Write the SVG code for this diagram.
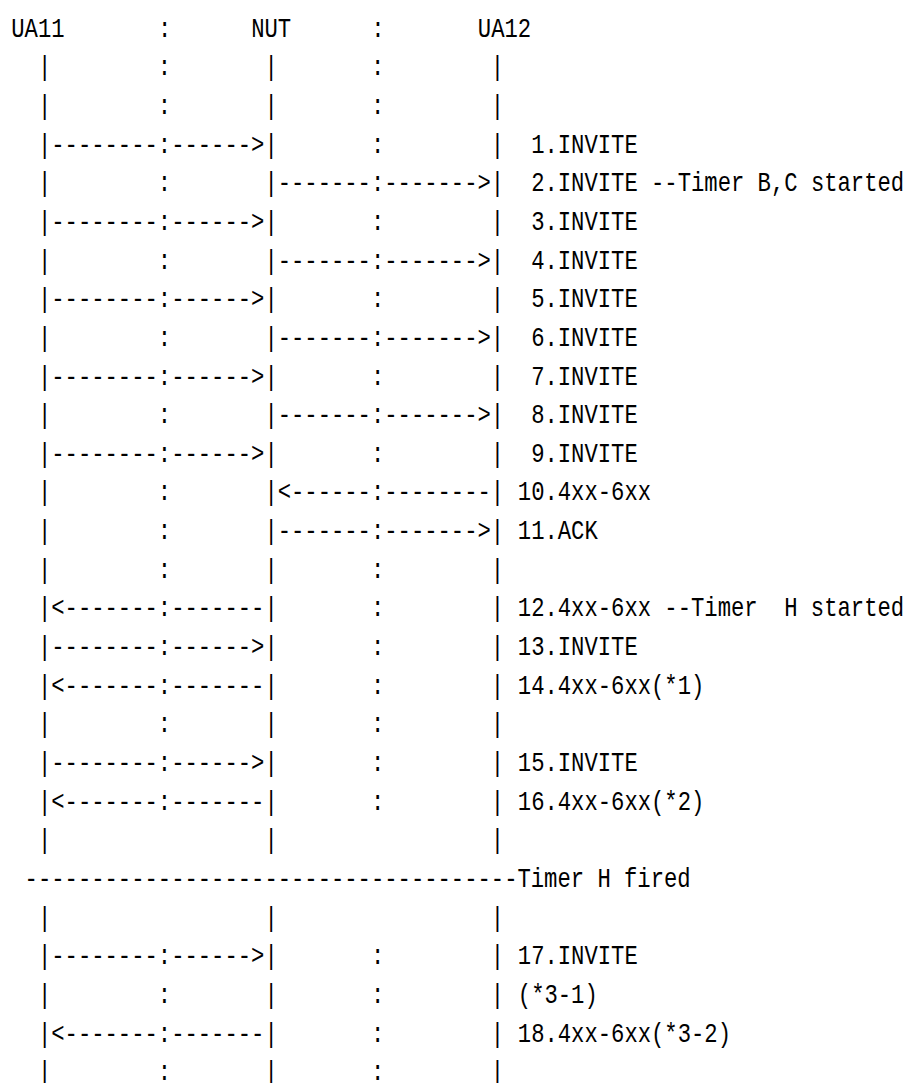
<svg xmlns="http://www.w3.org/2000/svg" width="908" height="1083" viewBox="0 0 908 1083">
<style>
text{font-family:"Liberation Mono","DejaVu Sans Mono",monospace;font-size:22.21px;fill:#000;white-space:pre}
</style>
<rect width="908" height="1083" fill="#fff"/>
<g transform="scale(1,1.25)">
<g id="nodes">
<g id="UA11"><text x="11.3" y="29.36">UA11</text></g>
<g id="NUT"><text x="251.24" y="29.36">NUT</text></g>
<g id="UA12"><text x="477.85" y="29.36">UA12</text></g>
<text x="157.93" y="29.36">:</text>
<text x="371.21" y="29.36">:</text>
</g>
<g id="connectors" xml:space="preserve">
<text x="11.3" y="60.28">  |        :       |       :        |</text>
<text x="11.3" y="91.2">  |        :       |       :        |</text>
<text x="11.3" y="122.12">  |--------:------&gt;|       :        |</text>
<text x="11.3" y="153.04">  |        :       |-------:-------&gt;|</text>
<text x="11.3" y="183.96">  |--------:------&gt;|       :        |</text>
<text x="11.3" y="214.88">  |        :       |-------:-------&gt;|</text>
<text x="11.3" y="245.8">  |--------:------&gt;|       :        |</text>
<text x="11.3" y="276.72">  |        :       |-------:-------&gt;|</text>
<text x="11.3" y="307.64">  |--------:------&gt;|       :        |</text>
<text x="11.3" y="338.56">  |        :       |-------:-------&gt;|</text>
<text x="11.3" y="369.48">  |--------:------&gt;|       :        |</text>
<text x="11.3" y="400.4">  |        :       |&lt;------:--------|</text>
<text x="11.3" y="431.32">  |        :       |-------:-------&gt;|</text>
<text x="11.3" y="462.24">  |        :       |       :        |</text>
<text x="11.3" y="493.16">  |&lt;-------:-------|       :        |</text>
<text x="11.3" y="524.08">  |--------:------&gt;|       :        |</text>
<text x="11.3" y="555">  |&lt;-------:-------|       :        |</text>
<text x="11.3" y="585.92">  |        :       |       :        |</text>
<text x="11.3" y="616.84">  |--------:------&gt;|       :        |</text>
<text x="11.3" y="647.76">  |&lt;-------:-------|       :        |</text>
<text x="11.3" y="678.68">  |                |                |</text>
<text x="11.3" y="709.6"> -------------------------------------Timer H fired</text>
<text x="11.3" y="740.52">  |                |                |</text>
<text x="11.3" y="771.44">  |--------:------&gt;|       :        |</text>
<text x="11.3" y="802.36">  |        :       |       :        |</text>
<text x="11.3" y="833.28">  |&lt;-------:-------|       :        |</text>
<text x="11.3" y="864.2">  |        :       |       :        |</text>
</g>
<g id="labels" xml:space="preserve">
<text x="531.17" y="122.12">1.INVITE</text>
<text x="531.17" y="153.04">2.INVITE --Timer B,C started</text>
<text x="531.17" y="183.96">3.INVITE</text>
<text x="531.17" y="214.88">4.INVITE</text>
<text x="531.17" y="245.8">5.INVITE</text>
<text x="531.17" y="276.72">6.INVITE</text>
<text x="531.17" y="307.64">7.INVITE</text>
<text x="531.17" y="338.56">8.INVITE</text>
<text x="531.17" y="369.48">9.INVITE</text>
<text x="517.84" y="400.4">10.4xx-6xx</text>
<text x="517.84" y="431.32">11.ACK</text>
<text x="517.84" y="493.16">12.4xx-6xx --Timer  H started</text>
<text x="517.84" y="524.08">13.INVITE</text>
<text x="517.84" y="555">14.4xx-6xx(*1)</text>
<text x="517.84" y="616.84">15.INVITE</text>
<text x="517.84" y="647.76">16.4xx-6xx(*2)</text>
<text x="517.84" y="771.44">17.INVITE</text>
<text x="517.84" y="802.36">(*3-1)</text>
<text x="517.84" y="833.28">18.4xx-6xx(*3-2)</text>
</g>
</g>
</svg>
